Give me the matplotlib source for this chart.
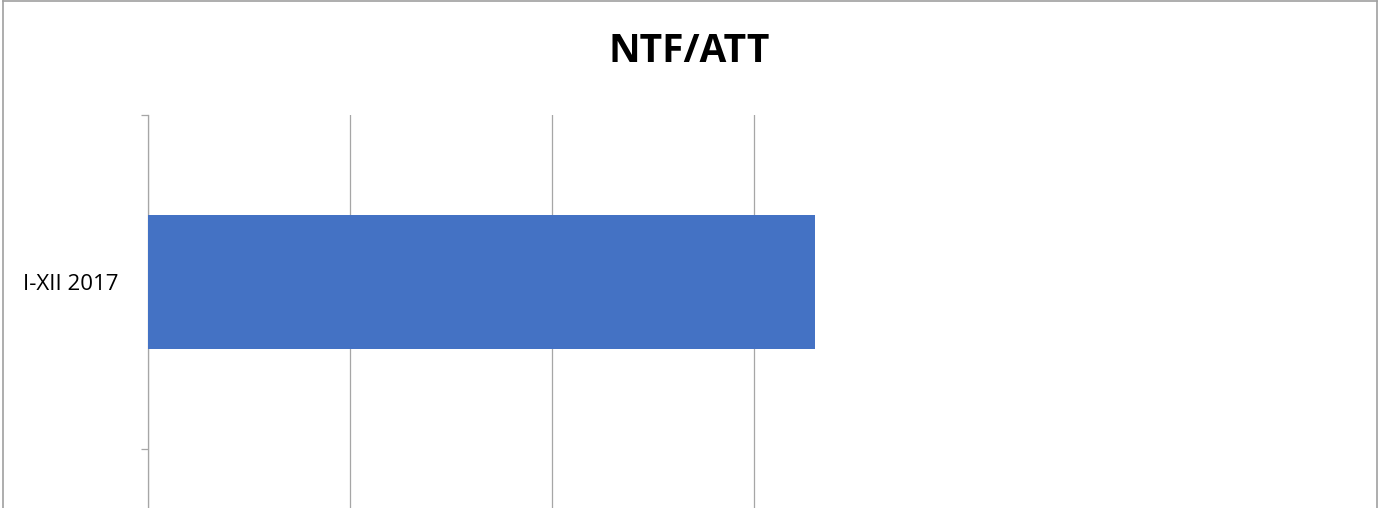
import matplotlib
matplotlib.use('Agg')
import matplotlib.pyplot as plt
from matplotlib.lines import Line2D

# data
categories = ['I-XII 2017']
values = [3.3]
x_ticks = [0, 1, 2, 3]

W, H, DPI = 1378, 508, 100
plt.rcParams['font.family'] = ['Open Sans', 'DejaVu Sans']

fig = plt.figure(figsize=(W / DPI, H / DPI), dpi=DPI)
fig.patch.set_facecolor('white')

# plot area: left edge at 148 px, top at 115 px, runs past the bottom
unit_px = 202
x_max = 3.6
ax = fig.add_axes([148 / W, 0, x_max * unit_px / W, (H - 115) / H])

pos = list(range(len(categories)))
ax.barh(pos, values, height=0.4, color='#4472C4', zorder=3)

ax.set_xlim(0, x_max)
ax.set_ylim(0.5 + 59 / 334, -0.5)

ax.set_xticks(x_ticks)
ax.xaxis.grid(True, color='#a6a6a6', linewidth=0.9)
ax.tick_params(axis='x', length=0, labelbottom=False)

ax.set_yticks(pos)
ax.set_yticklabels(categories, fontsize=16)
ax.tick_params(axis='y', which='major', length=0, pad=21)
ax.set_yticks([p - 0.5 for p in pos] + [p + 0.5 for p in pos], minor=True)
ax.tick_params(axis='y', which='minor', length=5, width=0.9, color='#a6a6a6')

for s in ['top', 'right', 'bottom']:
    ax.spines[s].set_visible(False)
ax.spines['left'].set_color('#a6a6a6')
ax.spines['left'].set_linewidth(0.9)

fig.text(0.5, 1 - 51 / H, 'NTF/ATT', ha='center', va='center',
         fontsize=28, fontweight='bold')

# chart border (bottom edge cropped away)
bc = '#a0a0a0'
fig.add_artist(Line2D([3 / W, 3 / W], [0, 1 - 1 / H], color=bc, lw=1.2))
fig.add_artist(Line2D([3 / W, 1376.5 / W], [1 - 1 / H, 1 - 1 / H], color=bc, lw=1.2))
fig.add_artist(Line2D([1376.5 / W, 1376.5 / W], [0, 1 - 1 / H], color=bc, lw=1.2))

fig.savefig('out.png', dpi=DPI)
